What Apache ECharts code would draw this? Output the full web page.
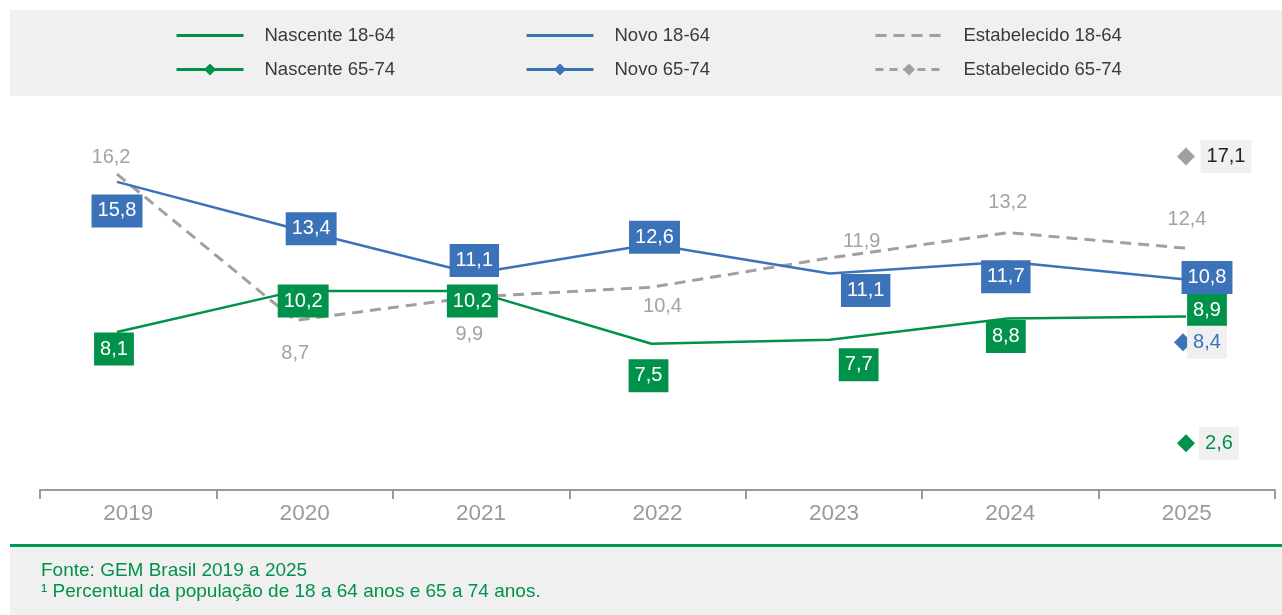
<!DOCTYPE html>
<html><head><meta charset="utf-8">
<script src="https://cdn.jsdelivr.net/npm/echarts@6/dist/echarts.min.js"></script>
<style>html,body{margin:0;padding:0;background:#fff}#c{width:1282px;height:615px}</style>
</head><body><div id="c"></div>
<script>
const years = ['2019','2020','2021','2022','2023','2024','2025'];
const nascente1864 = [8.1,10.2,10.2,7.5,7.7,8.8,8.9];
const novo1864 = [15.8,13.4,11.1,12.6,11.1,11.7,10.8];
const estab1864 = [16.2,8.7,9.9,10.4,11.9,13.2,12.4];
const nascente6574 = [null,null,null,null,null,null,2.6];
const novo6574 = [null,null,null,null,null,null,8.4];
const estab6574 = [null,null,null,null,null,null,17.1];
const seriesNames = ['Nascente 18-64','Nascente 65-74','Novo 18-64','Novo 65-74','Estabelecido 18-64','Estabelecido 65-74'];
const sourceNote = 'Fonte: GEM Brasil 2019 a 2025';
const footNote = '\u00b9 Percentual da popula\u00e7\u00e3o de 18 a 64 anos e 65 a 74 anos.';

// label placement (pixel offsets from each point)
const novoOff = [[0,29],[16,0],[1,-13],[3,-7],[36,17],[-2,15],[21,-2]];
const nascOff = [[-3,17],[8,10],[-1,10],[-3,32],[29,25],[-2,18],[21,-6]];
const estOff  = [[-6,-17],[0,33],[-4,38],[11,19],[32,-16],[0,-30],[1,-29]];

const GREEN = '#00924a', BLUE = '#3b72b8', GRAY = '#a0a0a0';
const FONT = 'Liberation Sans, Arial, sans-serif';
const fmt = v => v.toFixed(1).replace('.', ',');

function withLabels(arr, offs) {
  return arr.map((v, i) => ({ value: v, label: { offset: offs[i] } }));
}
function boxLabel(bg) {
  return { show: true, position: 'inside', formatter: p => fmt(p.value), color: '#fff',
    backgroundColor: bg, padding: [6, 6, 5, 6], fontSize: 20, fontFamily: FONT, lineHeight: 22 };
}

const chart = echarts.init(document.getElementById('c'), null, { renderer: 'canvas' });
const legendBase = {
  orient: 'vertical', top: 21, itemWidth: 67, itemHeight: 15, itemGap: 15, selectedMode: false,
  lineStyle: { width: 3 },
  textStyle: { fontSize: 18.5, color: '#3a3a3a', fontFamily: FONT, padding: [0, 0, 0, 16] }
};
const noSym = { opacity: 0 };
chart.setOption({
  animation: false,
  graphic: [
    { type: 'rect', z: -10, shape: { x: 10, y: 10, width: 1272, height: 86 }, style: { fill: '#f0f0f0' } },
    { type: 'rect', z: -10, shape: { x: 10, y: 547, width: 1272, height: 68 }, style: { fill: '#f0f0f0' } },
    { type: 'rect', z: -9, shape: { x: 10, y: 544, width: 1272, height: 3 }, style: { fill: '#00994d' } },
    { type: 'text', x: 41, y: 571, style: { text: sourceNote, fill: '#00924a', fontSize: 19, fontFamily: FONT, verticalAlign: 'middle' } },
    { type: 'text', x: 41, y: 592, style: { text: footNote, fill: '#00924a', fontSize: 19, fontFamily: FONT, verticalAlign: 'middle' } }
  ],
  legend: [
    Object.assign({}, legendBase, { left: 170, data: [{ name: seriesNames[0], itemStyle: noSym }, seriesNames[1]] }),
    Object.assign({}, legendBase, { left: 520, data: [{ name: seriesNames[2], itemStyle: noSym }, seriesNames[3]] }),
    Object.assign({}, legendBase, { left: 869, data: [{ name: seriesNames[4], itemStyle: noSym }, seriesNames[5]] })
  ],
  grid: [
    { left: 40, right: 7, top: 100, bottom: 125 },
    { left: 117, right: 96, top: 100, bottom: 125 }
  ],
  xAxis: [
    { type: 'category', gridIndex: 0, data: years, boundaryGap: true,
      axisLine: { lineStyle: { color: '#9a9a9a', width: 2 } },
      axisTick: { show: true, interval: 0, length: 9, lineStyle: { color: '#9a9a9a', width: 2 } },
      axisLabel: { color: '#9a9a9a', fontSize: 22.5, fontFamily: FONT, margin: 12 } },
    { type: 'category', gridIndex: 1, data: years, boundaryGap: false, show: false }
  ],
  yAxis: [
    { type: 'value', gridIndex: 0, min: 0, max: 20, show: false },
    { type: 'value', gridIndex: 1, min: 0, max: 20, show: false }
  ],
  series: [
    { name: seriesNames[4], type: 'line', xAxisIndex: 1, yAxisIndex: 1, color: GRAY, symbol: 'circle', symbolSize: 0.5,
      lineStyle: { color: GRAY, width: 3, type: [11, 7] },
      label: { show: true, position: 'inside', formatter: p => fmt(p.value), color: '#a3a3a3', fontSize: 20, fontFamily: FONT },
      data: withLabels(estab1864, estOff) },
    { name: seriesNames[0], type: 'line', xAxisIndex: 1, yAxisIndex: 1, color: GREEN, symbol: 'circle', symbolSize: 0.5,
      lineStyle: { color: GREEN, width: 2.5 }, label: boxLabel(GREEN), data: withLabels(nascente1864, nascOff) },
    { name: seriesNames[2], type: 'line', xAxisIndex: 1, yAxisIndex: 1, color: BLUE, symbol: 'circle', symbolSize: 0.5,
      lineStyle: { color: BLUE, width: 2.5 }, label: boxLabel(BLUE), data: withLabels(novo1864, novoOff) },
    { name: seriesNames[1], type: 'line', xAxisIndex: 1, yAxisIndex: 1, color: GREEN, symbol: 'diamond', symbolSize: 18,
      symbolOffset: [0, 4], lineStyle: { color: GREEN, width: 3 },
      label: { show: true, position: 'inside', offset: [33, 0], formatter: p => fmt(p.value), color: GREEN,
        backgroundColor: '#f0f0f0', padding: [6, 6, 5, 6], fontSize: 20, fontFamily: FONT, lineHeight: 22 },
      data: nascente6574 },
    { name: seriesNames[3], type: 'line', xAxisIndex: 1, yAxisIndex: 1, color: BLUE, symbol: 'diamond', symbolSize: 18,
      symbolOffset: [-3, 16], lineStyle: { color: BLUE, width: 3 },
      label: { show: true, position: 'inside', offset: [24, 0], formatter: p => fmt(p.value), color: BLUE,
        backgroundColor: '#f0f0f0', padding: [6, 6, 5, 6], fontSize: 20, fontFamily: FONT, lineHeight: 22 },
      data: novo6574 },
    { name: seriesNames[5], type: 'line', xAxisIndex: 1, yAxisIndex: 1, color: GRAY, symbol: 'diamond', symbolSize: 18,
      lineStyle: { color: GRAY, width: 3, type: [8, 6] },
      label: { show: true, position: 'inside', offset: [40, 0], formatter: p => fmt(p.value), color: '#222',
        backgroundColor: '#f0f0f0', padding: [6, 6, 5, 6], fontSize: 20, fontFamily: FONT, lineHeight: 22 },
      data: estab6574 }
  ]
});
</script></body></html>
